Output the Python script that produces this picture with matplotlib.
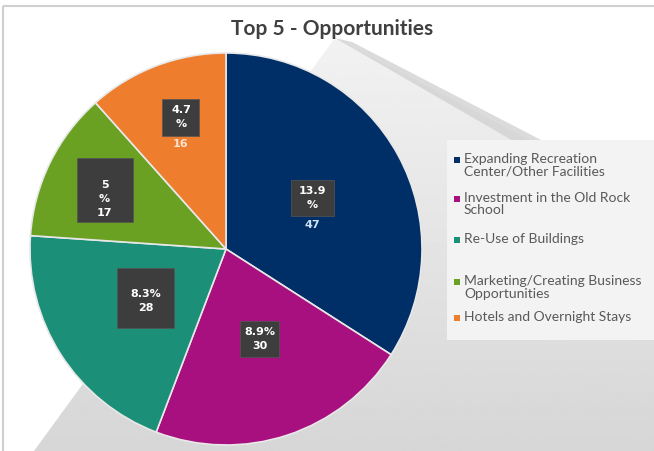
import numpy as np
import matplotlib.pyplot as plt
from matplotlib.patches import Polygon, Rectangle

# data
categories = ["Expanding Recreation\nCenter/Other Facilities",
              "Investment in the Old Rock\nSchool",
              "Re-Use of Buildings\n",
              "Marketing/Creating Business\nOpportunities",
              "Hotels and Overnight Stays"]
counts = [47, 30, 28, 17, 16]
pct_labels = ["13.9%", "8.9%", "8.3%", "5%", "4.7%"]
colors = ["#002e66", "#a8107f", "#1c8f78", "#6ba123", "#ee7d2e"]

W, H = 654, 451
fig = plt.figure(figsize=(W / 100, H / 100), dpi=100)
fig.patch.set_facecolor("white")

# background "mountain" (pixel coords)
bg = fig.add_axes([0, 0, 1, 1], zorder=-1)
bg.set_xlim(0, W)
bg.set_ylim(H, 0)
bg.axis("off")
grad = np.linspace(0.95, 0.84, 200).reshape(-1, 1)
mountain = Polygon([(34, 451), (335, 38), (654, 205), (654, 451)], closed=True,
                   transform=bg.transData, facecolor="none", edgecolor="none")
bg.add_patch(mountain)
im = bg.imshow(grad, cmap="gray", vmin=0, vmax=1, extent=[0, W, H, 30], aspect="auto")
im.set_clip_path(mountain)
bg.add_patch(Polygon([(335, 38), (352, 42), (545, 142), (515, 142)], closed=True,
                     facecolor="#d2d2d2", edgecolor="none", alpha=0.8))
bg.add_patch(Rectangle((3, 6), W, H, facecolor="none", edgecolor="#cfcfcf", lw=1.5))

fig.text(332 / W, 1 - 29 / H, "Top 5 - Opportunities", ha="center", va="center",
         fontsize=15, fontweight="bold", color="#404040", family="Lato")

# pie
cx, cy, r = 226, 249, 196
ax = fig.add_axes([(cx - r) / W, 1 - (cy + r) / H, 2 * r / W, 2 * r / H])
ax.set_facecolor("none")
wedges, _ = ax.pie(counts, colors=colors, startangle=90, counterclock=False,
                   radius=1, wedgeprops=dict(edgecolor="#e8e8e8", linewidth=1.2))
ax.set_xlim(-1, 1)
ax.set_ylim(-1, 1)
ax.set_aspect("equal")
ax.axis("off")

# label layout: radius fraction, angle shift, box w/h (px), text shift (px), style
label_pos = [(0.51, 1.7, 43, 36, 0, 1), (0.49, 2.4, 39, 36, 0, 2), (0.48, -1, 57, 60, -3, 2),
             (0.69, 0, 56, 64, -9, 3), (0.71, -2, 37, 37, 0, 1)]
below_colors = ["#cfe3f7", None, None, None, "#fde3cf"]
for w, cnt, pct, (rf, dang, bw, bh, dy, mode), bc in zip(wedges, counts, pct_labels,
                                                        label_pos, below_colors):
    mid = np.deg2rad((w.theta1 + w.theta2) / 2 + dang)
    x, y = rf * np.cos(mid), rf * np.sin(mid)
    ax.add_patch(Rectangle((x - bw / 2 / r, y - bh / 2 / r), bw / r, bh / r,
                           facecolor="#3d3d3d", edgecolor="#555555", lw=0.5, zorder=3))
    kw = dict(ha="center", va="center", color="white", fontsize=8, fontweight="bold",
              family="DejaVu Sans", linespacing=1.5, zorder=4)
    ty = y + dy / r
    if mode == 1:
        ax.text(x, ty, pct.rstrip("%") + "\n%", **kw)
        kw["color"] = bc
        ax.text(x, y - 27 / r, str(cnt), **kw)
    elif mode == 2:
        ax.text(x, ty, pct + "\n" + str(cnt), **kw)
    else:
        ax.text(x, ty, pct.rstrip("%") + "\n%\n" + str(cnt), **kw)

# legend
lx0, ly0, lx1, ly1 = 447, 140, 654, 340
lax = fig.add_axes([lx0 / W, 1 - ly1 / H, (lx1 - lx0) / W, (ly1 - ly0) / H])
lax.set_xlim(lx0, lx1)
lax.set_ylim(ly1, ly0)
lax.set_facecolor("#f3f3f3")
for s in lax.spines.values():
    s.set_visible(False)
lax.set_xticks([])
lax.set_yticks([])
rows = [160, 199, 240, 282, 318]
for yy, lab, c in zip(rows, categories, colors):
    lax.add_patch(Rectangle((454, yy - 3.5), 6, 6, facecolor=c, edgecolor="none"))
    lax.text(464, yy - 7, lab, ha="left", va="top", fontsize=10, color="#595959",
             family="Lato", linespacing=1.05)

plt.savefig("out.png", dpi=100)
